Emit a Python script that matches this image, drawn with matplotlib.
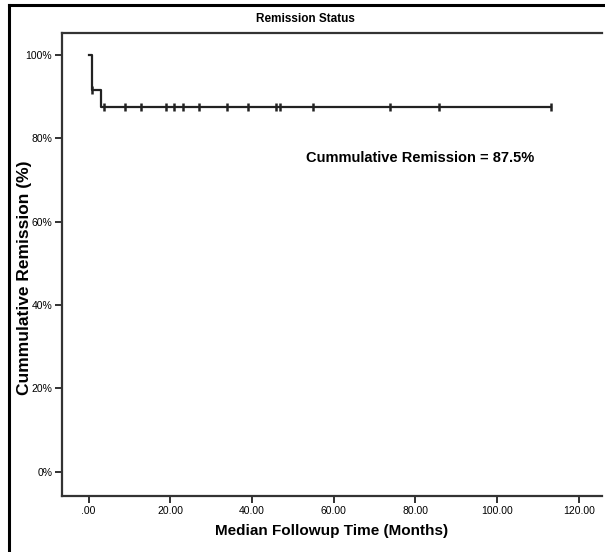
import numpy as np
import matplotlib.pyplot as plt
import matplotlib as mpl
from matplotlib.lines import Line2D

# dati Kaplan-Meier (mesi, % remissione)
step_times = [0.0, 0.8, 3.0]
step_surv = [100.0, 91.67, 87.5]
last_time = 113.1
censor_times = [0.8, 3.8, 9.0, 12.9, 19.0, 21.0, 23.1, 27.1, 34.0, 39.0,
                46.0, 46.9, 55.0, 73.9, 85.8, 113.1]
censor_surv = [91.67] + [87.5] * 15

xticks = [0, 20, 40, 60, 80, 100, 120]
xtick_labels = ['.00', '20.00', '40.00', '60.00', '80.00', '100.00', '120.00']
yticks = [0, 20, 40, 60, 80, 100]
ytick_labels = ['0%', '20%', '40%', '60%', '80%', '100%']

titolo = 'Remission Status'
nota = 'Cummulative Remission = 87.5%'

mpl.rcParams['font.family'] = ['Liberation Sans Narrow', 'Liberation Sans', 'DejaVu Sans']
scuro = '#222222'
bold_font = ['Liberation Sans', 'DejaVu Sans']

fig = plt.figure(figsize=(6.05, 5.52), dpi=100)
fig.set_facecolor('white')
ax = fig.add_axes([62/605, 1-496/552, (602-62)/605, (496-33)/552])

# curva a gradini
xs = step_times + [last_time]
ys = step_surv + [step_surv[-1]]
ax.step(xs, ys, where='post', color=scuro, lw=1.6)
ax.plot(censor_times, censor_surv, ls='none', marker='|', ms=6, mew=1.8, color=scuro)

ax.set_xlim(-6.5, 125.7)
ax.set_ylim(-5.8, 105.3)
ax.set_xticks(xticks)
ax.set_xticklabels(xtick_labels)
ax.set_yticks(yticks)
ax.set_yticklabels(ytick_labels)
ax.tick_params(direction='out', length=5, width=1.3, color=scuro, labelsize=7.5, pad=2)
for s in ['left', 'bottom', 'top']:
    ax.spines[s].set_linewidth(1.6)
    ax.spines[s].set_color('#333333')
ax.spines['right'].set_visible(False)

ax.set_xlabel('Median Followup Time (Months)', fontsize=11, fontweight='bold',
              family=bold_font, labelpad=6)
ax.set_ylabel('Cummulative Remission (%)', fontsize=12.5, fontweight='bold',
              family=bold_font)
ax.yaxis.set_label_coords(-0.0555, 0.471)
ax.text(53.3, 75.3, nota, fontsize=10.5, fontweight='bold',
        family=bold_font, va='center', ha='left')

fig.text(305/605, 1-19/552, titolo, ha='center', va='center', fontsize=8.5, fontweight='bold')

# cornice esterna (solo sinistra e alto visibili)
fig.add_artist(Line2D([9/605, 9/605], [0, 1-5/552], transform=fig.transFigure, color='black', lw=2.2))
fig.add_artist(Line2D([9/605, 1], [1-5/552, 1-5/552], transform=fig.transFigure, color='black', lw=2.2))

fig.savefig('out.png', dpi=100, facecolor='white')
